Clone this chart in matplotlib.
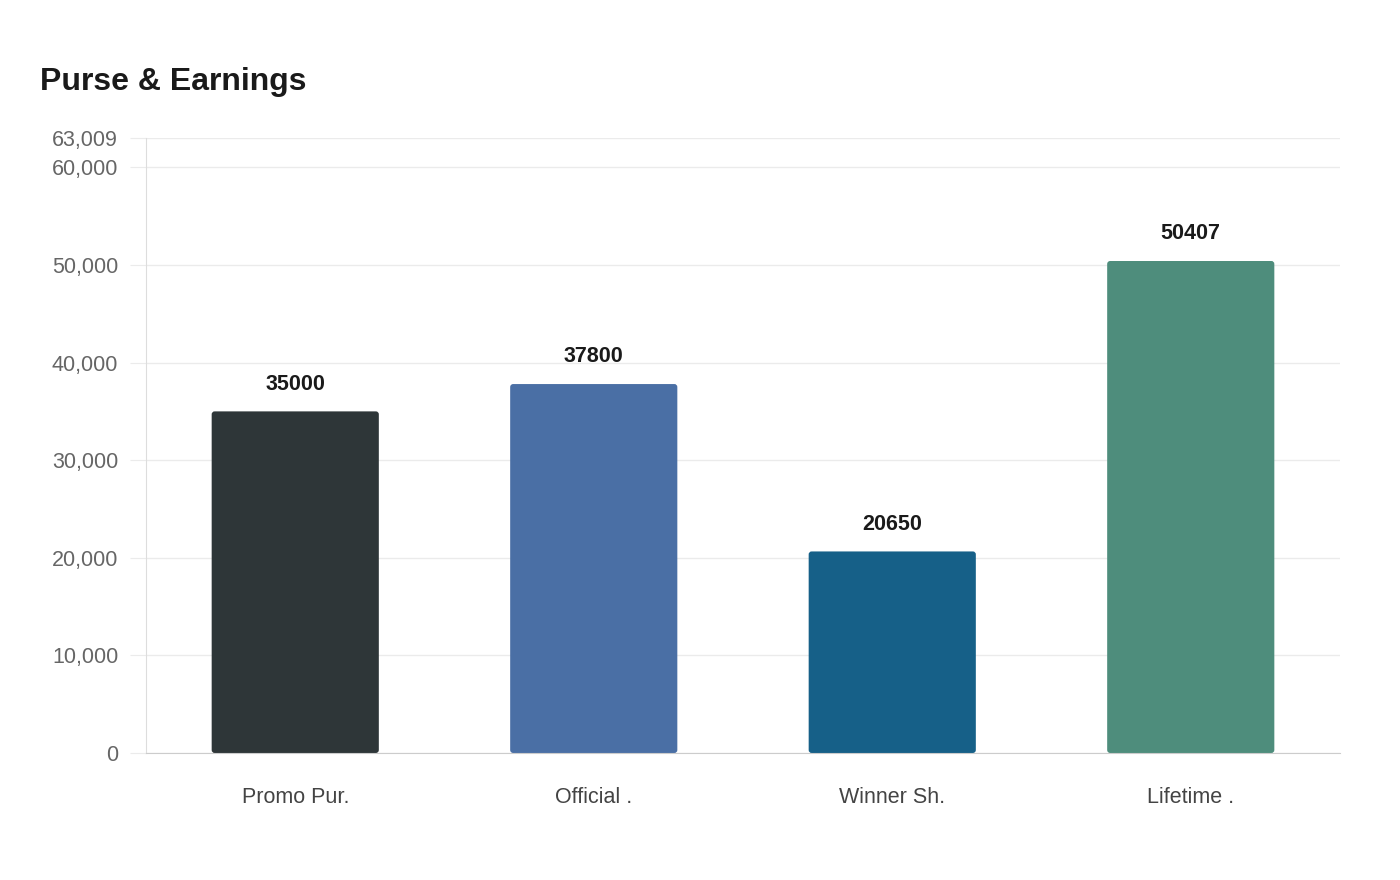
import matplotlib.pyplot as plt
from matplotlib.patches import FancyBboxPatch

plt.rcParams['font.family'] = ['Liberation Sans', 'DejaVu Sans']

categorias = ["Promo Pur.", "Official .", "Winner Sh.", "Lifetime ."]
valores = [35000, 37800, 20650, 50407]
colores = ["#2e3638", "#4a6fa5", "#166088", "#4e8d7c"]
ticks_y = [0, 10000, 20000, 30000, 40000, 50000, 60000, 63009]
y_max = 63009

fig = plt.figure(figsize=(14, 8.8), dpi=100)
ax = fig.add_axes([146 / 1400, 1 - 753 / 880, 1194 / 1400, 615 / 880])

x = list(range(len(categorias)))
barras = ax.bar(x, valores, width=0.56, color=colores, zorder=3)

# esquinas redondeadas
aspecto = (y_max / 615) / (4 / 1194)
for b in barras:
    bx, by = b.get_x(), b.get_y()
    w, h = b.get_width(), b.get_height()
    c = b.get_facecolor()
    b.remove()
    p = FancyBboxPatch((bx, by), w, h, boxstyle="round,pad=0,rounding_size=0.01",
                       mutation_aspect=aspecto, facecolor=c, edgecolor="none", zorder=3)
    ax.add_patch(p)

for i, v in enumerate(valores):
    ax.annotate(str(v), (i, v), xytext=(0, 19.5), textcoords="offset points",
                ha="center", va="center", fontsize=15.5, fontweight="bold", color="#1a1a1a")

ax.set_xlim(-0.5, 3.5)
ax.set_ylim(0, y_max)
ax.set_yticks(ticks_y)
ax.set_yticklabels([f"{t:,}" for t in ticks_y])
ax.set_xticks(x)
ax.set_xticklabels(categorias)

ax.grid(axis="y", color="#ebebeb", linewidth=1, zorder=0)
ax.set_axisbelow(True)
ax.tick_params(axis="y", length=11.5, color="#ebebeb", labelsize=15.5, labelcolor="#666666", pad=8.5)
ax.tick_params(axis="x", length=0, labelsize=15.5, labelcolor="#444444", pad=24.5)

for s in ["top", "right"]:
    ax.spines[s].set_visible(False)
ax.spines["left"].set_color("#dddddd")
ax.spines["bottom"].set_color("#cccccc")
ax.spines["bottom"].set_zorder(4)

fig.text(40 / 1400, 1 - 82 / 880, "Purse & Earnings", fontsize=23, fontweight="bold",
         color="#1a1a1a", ha="left", va="center")

fig.savefig("out.png", dpi=100)
